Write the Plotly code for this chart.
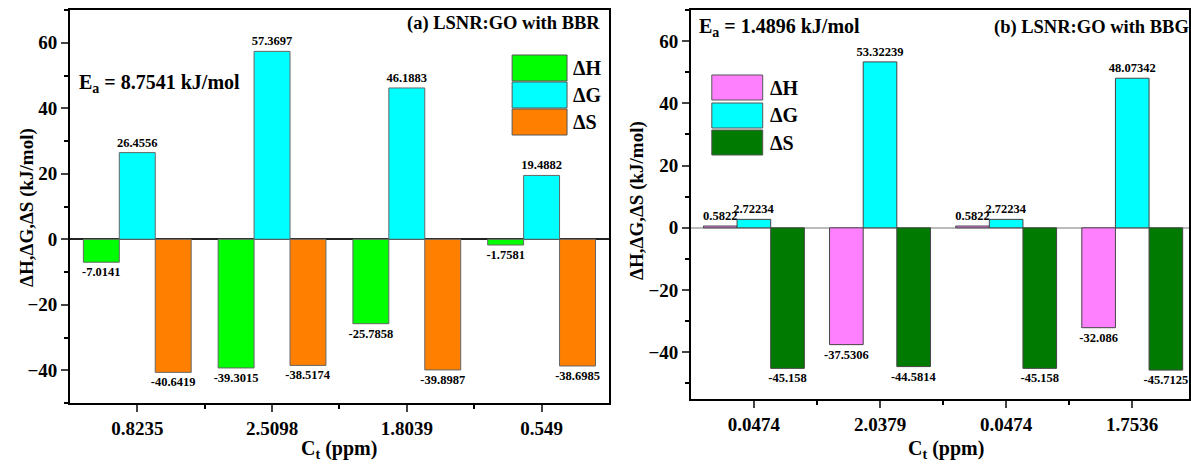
import plotly.graph_objects as go

# ---- data ----
ct_a = ["0.8235", "2.5098", "1.8039", "0.549"]
dH_a = [-7.0141, -39.3015, -25.7858, -1.7581]
dG_a = [26.4556, 57.3697, 46.1883, 19.4882]
dS_a = [-40.6419, -38.5174, -39.8987, -38.6985]

ct_b = ["0.0474", "2.0379", "0.0474", "1.7536"]
dH_b = [0.5822, -37.5306, 0.5822, -32.086]
dG_b = [2.72234, 53.32239, 2.72234, 48.07342]
dS_b = [-45.158, -44.5814, -45.158, -45.7125]

series_names = ["ΔH", "ΔG", "ΔS"]
colors_a = ["#00FF00", "#00FFFF", "#FF8000"]
colors_b = ["#FF80FF", "#00FFFF", "#007A00"]

W, H = 1191, 464
SERIF = "Liberation Serif"


def px(x):
    return x / W


def py(y):
    return 1 - y / H


fig = go.Figure()

bar_font = dict(family=SERIF, size=12.5, color="black", weight="bold")
pos = list(range(4))
for vals, name, col in zip([dH_a, dG_a, dS_a], series_names, colors_a):
    fig.add_trace(go.Bar(
        x=pos, y=vals, name=name, xaxis="x", yaxis="y",
        marker=dict(color=col, line=dict(color="#666666", width=1)),
        text=[str(v) for v in vals], textposition="outside",
        constraintext="none", cliponaxis=False,
        outsidetextfont=bar_font, showlegend=False,
    ))

for vals, name, col in zip([dH_b, dG_b, dS_b], series_names, colors_b):
    fig.add_trace(go.Bar(
        x=pos, y=vals, name=name, xaxis="x2", yaxis="y2",
        marker=dict(color=col, line=dict(color="#444444", width=1)),
        text=[str(v) for v in vals], textposition="outside",
        constraintext="none", cliponaxis=False,
        outsidetextfont=bar_font, showlegend=False,
    ))

tickfont = dict(family=SERIF, size=19, color="black", weight="bold")

common_x = dict(
    tickmode="array", tickvals=pos, ticks="outside", ticklen=7, tickwidth=1.5,
    showline=True, linecolor="black", linewidth=1.5, mirror=True,
    showgrid=False, zeroline=False, tickfont=tickfont,
    minor=dict(tickvals=[0.5, 1.5, 2.5], ticks="outside", ticklen=4, tickcolor="black", tickwidth=1.5),
)
common_y = dict(
    dtick=20, ticks="outside", ticklen=7, tickwidth=1.5,
    showline=True, linecolor="black", linewidth=1.5, mirror=True,
    showgrid=False, tickfont=tickfont,
    minor=dict(dtick=10, ticks="outside", ticklen=4, tickcolor="black", tickwidth=1.5),
)

fig.update_layout(
    width=W, height=H, autosize=False,
    margin=dict(l=0, r=0, t=0, b=0),
    paper_bgcolor="white", plot_bgcolor="white",
    barmode="group", bargap=0.2, bargroupgap=0,
    xaxis=dict(common_x, domain=[px(70), px(610)], range=[-0.5, 3.5], ticktext=ct_a, anchor="y"),
    yaxis=dict(common_y, domain=[py(403), py(10)], range=[-50, 70], anchor="x",
               zeroline=True, zerolinecolor="#222222", zerolinewidth=1.5),
    xaxis2=dict(common_x, domain=[px(692), 1], range=[-0.5, 3.45], ticktext=ct_b, anchor="y2"),
    yaxis2=dict(common_y, domain=[py(399), py(10)], range=[-55, 70], anchor="x2",
                zeroline=True, zerolinecolor="#BBBBBB", zerolinewidth=1.5),
)

ann = []
title_font = dict(family=SERIF, size=19, color="black", weight="bold")


def label(x, y, text, font, xanchor="center", angle=0):
    ann.append(dict(x=px(x), y=py(y), xref="paper", yref="paper", text=text,
                    xanchor=xanchor, yanchor="middle", textangle=angle,
                    showarrow=False, font=font))


# axis titles
label(27, 207, "ΔH,ΔG,ΔS (kJ/mol)", title_font, angle=-90)
label(638, 200, "ΔH,ΔG,ΔS (kJ/mol)", title_font, angle=-90)
label(340, 449, "C<sub>t</sub> (ppm)", dict(title_font, size=20))
label(948, 449, "C<sub>t</sub> (ppm)", dict(title_font, size=20))

# panel labels and activation energies
panel_font = dict(family=SERIF, size=18.5, color="black", weight="bold")
ea_font = dict(family=SERIF, size=20, color="black", weight="bold")
label(603, 24, "(a) LSNR:GO with BBR", panel_font, xanchor="right")
label(77, 84, "E<sub>a</sub> = 8.7541 kJ/mol", ea_font, xanchor="left")
label(1193, 28, "(b) LSNR:GO with BBG", panel_font, xanchor="right")
label(698, 27, "E<sub>a</sub> = 1.4896 kJ/mol", ea_font, xanchor="left")

# custom legends
shapes = []
legend_a = dict(x0=513, x1=568, tops=[55, 82, 109], h=26, tx=572)
legend_b = dict(x0=713, x1=764, tops=[75, 103, 130], h=25, tx=769)
leg_font = dict(family=SERIF, size=20, color="black", weight="bold")
for leg, cols in [(legend_a, colors_a), (legend_b, colors_b)]:
    for top, col, name in zip(leg["tops"], cols, series_names):
        shapes.append(dict(type="rect", xref="paper", yref="paper",
                           x0=px(leg["x0"]), x1=px(leg["x1"]), y0=py(top + leg["h"]), y1=py(top),
                           fillcolor=col, line=dict(color="#555555", width=1)))
        label(leg["tx"], top + leg["h"] / 2, name, leg_font, xanchor="left")

fig.update_layout(annotations=ann, shapes=shapes)
fig.write_html("out.html")
